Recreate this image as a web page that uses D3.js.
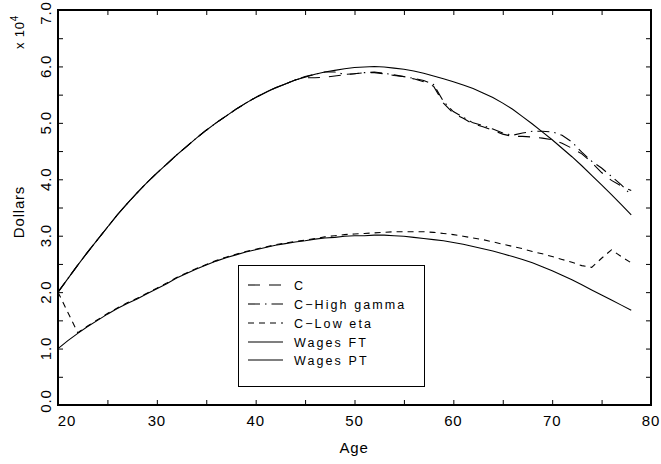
<!DOCTYPE html>
<html>
<head>
<meta charset="utf-8">
<script src="https://cdn.jsdelivr.net/npm/d3@7"></script>
<style>
  body { margin: 0; background: #fff; }
  svg { display: block; }
  text { font-family: "Liberation Sans", Arial, sans-serif; fill: #000; }
</style>
</head>
<body>
<svg id="chart" width="661" height="464"></svg>
<script>
// ---------------- data ----------------
const ages = [20,21,22,23,24,25,26,27,28,29,30,31,32,33,34,35,36,37,38,39,
              40,41,42,43,44,45,46,47,48,49,50,51,52,53,54,55,56,57,58,59,
              60,61,62,63,64,65,66,67,68,69,70,71,72,73,74,75,76,77,78];

const wagesFT = [2.00,2.24,2.48,2.71,2.93,3.15,3.37,3.57,3.76,3.94,
                 4.11,4.27,4.43,4.58,4.73,4.87,5.00,5.12,5.24,5.35,
                 5.45,5.54,5.62,5.69,5.76,5.81,5.86,5.90,5.93,5.96,
                 5.98,5.99,6.00,5.99,5.97,5.95,5.92,5.88,5.83,5.78,
                 5.73,5.67,5.61,5.53,5.45,5.35,5.24,5.11,4.98,4.84,
                 4.70,4.55,4.40,4.24,4.07,3.90,3.73,3.55,3.37];

const wagesPT = [1.00,1.14,1.27,1.39,1.50,1.61,1.71,1.80,1.88,1.97,
                 2.06,2.15,2.25,2.33,2.41,2.48,2.55,2.61,2.66,2.71,
                 2.75,2.79,2.83,2.86,2.89,2.91,2.94,2.96,2.97,2.99,
                 3.00,3.00,3.01,3.01,3.00,2.99,2.97,2.95,2.93,2.91,
                 2.88,2.85,2.81,2.77,2.73,2.68,2.63,2.58,2.52,2.45,
                 2.38,2.30,2.22,2.13,2.04,1.95,1.86,1.77,1.68];

const consC = [2.00,2.24,2.48,2.71,2.93,3.15,3.37,3.57,3.76,3.94,
               4.11,4.27,4.43,4.58,4.73,4.87,5.00,5.12,5.24,5.35,
               5.45,5.54,5.62,5.69,5.76,5.80,5.80,5.81,5.83,5.85,
               5.87,5.89,5.89,5.87,5.84,5.82,5.78,5.73,5.65,5.35,
               5.17,5.08,4.98,4.93,4.87,4.80,4.76,4.76,4.75,4.73,
               4.70,4.64,4.55,4.45,4.30,4.12,3.98,3.88,3.80];

const consHighGamma = [2.00,2.24,2.48,2.71,2.93,3.15,3.37,3.57,3.76,3.94,
                       4.11,4.27,4.43,4.58,4.73,4.87,5.00,5.12,5.24,5.35,
                       5.45,5.54,5.62,5.69,5.76,5.82,5.86,5.90,5.90,5.86,
                       5.87,5.89,5.90,5.88,5.85,5.82,5.79,5.75,5.68,5.38,
                       5.20,5.10,5.00,4.95,4.89,4.82,4.78,4.82,4.85,4.85,
                       4.84,4.78,4.66,4.48,4.32,4.20,4.05,3.90,3.72];

const consLowEta = [2.00,1.64,1.28,1.40,1.51,1.62,1.72,1.81,1.89,1.98,
                    2.07,2.16,2.26,2.34,2.42,2.49,2.56,2.62,2.67,2.72,
                    2.76,2.80,2.84,2.87,2.90,2.92,2.95,2.98,3.00,3.02,
                    3.03,3.04,3.05,3.06,3.07,3.07,3.07,3.07,3.06,3.04,
                    3.02,2.99,2.96,2.93,2.89,2.85,2.81,2.77,2.72,2.68,
                    2.63,2.58,2.53,2.47,2.44,2.60,2.75,2.63,2.52];

const xMajorTicks = [20,30,40,50,60,70,80];
const xMinorTicks = [25,35,45,55,65,75];
const yMajorTicks = [0,1,2,3,4,5,6,7];
const yMinorTicks = [0.5,1.5,2.5,3.5,4.5,5.5,6.5];
const yTickLabels = ["0.0","1.0","2.0","3.0","4.0","5.0","6.0","7.0"];

const seriesNames = ["C","C\u2212High gamma","C\u2212Low eta","Wages FT","Wages PT"];
const seriesValues = [consC, consHighGamma, consLowEta, wagesFT, wagesPT];
const seriesDash = ["12,9", "12,5,1.5,5", "6,5", null, null];

// ---------------- layout ----------------
const svg = d3.select("#chart");
const L = 58, R = 651, T = 10, B = 405;
const x = d3.scaleLinear().domain([20, 80]).range([L, R]);
const y = d3.scaleLinear().domain([0, 7]).range([B, T]);

// ticks (inward, all four sides)
function tickAxis(gen, tx, ty) {
  const g = svg.append("g").attr("transform", `translate(${tx},${ty})`).call(gen);
  g.select(".domain").remove();
  g.selectAll("text").remove();
  g.selectAll("line").attr("stroke", "#000").attr("stroke-width", 1);
  return g;
}
const allX = xMajorTicks.concat(xMinorTicks);
const allY = yMajorTicks.concat(yMinorTicks);
tickAxis(d3.axisBottom(x).tickValues(allX).tickSize(-5), 0, B);
tickAxis(d3.axisTop(x).tickValues(allX).tickSize(-5), 0, T);
tickAxis(d3.axisLeft(y).tickValues(allY).tickSize(-5), L, 0);
tickAxis(d3.axisRight(y).tickValues(allY).tickSize(-5), R, 0);

// frame
svg.append("rect")
  .attr("x", L).attr("y", T).attr("width", R - L).attr("height", B - T)
  .attr("fill", "none").attr("stroke", "#000").attr("stroke-width", 2);

// x tick labels
svg.append("g").selectAll("text")
  .data(xMajorTicks).join("text")
  .attr("x", (d, i) => x(d) + (i === 0 ? 9 : 0))
  .attr("y", 426)
  .attr("text-anchor", "middle")
  .attr("font-size", 15)
  .attr("letter-spacing", 0.8)
  .text(d => d);

// y tick labels (rotated); end labels nudged away from the corners/edge
const yLast = yMajorTicks.length - 1;
svg.append("g").selectAll("text")
  .data(yMajorTicks).join("text")
  .attr("transform", (d, i) => {
    const off = i === 0 ? -4 : (i === yLast ? 3 : 0);
    return `translate(51,${y(d) + off}) rotate(-90)`;
  })
  .attr("text-anchor", "middle")
  .attr("font-size", 15)
  .attr("letter-spacing", 0.8)
  .text((d, i) => yTickLabels[i]);

// axis titles
svg.append("text")
  .attr("x", 354).attr("y", 453)
  .attr("text-anchor", "middle")
  .attr("font-size", 15).attr("letter-spacing", 0.8)
  .text("Age");

svg.append("text")
  .attr("transform", "translate(24,212) rotate(-90)")
  .attr("text-anchor", "middle")
  .attr("font-size", 15).attr("letter-spacing", 0.8)
  .text("Dollars");

const sc = svg.append("text")
  .attr("transform", "translate(24,32) rotate(-90)")
  .attr("text-anchor", "middle")
  .attr("font-size", 13).attr("letter-spacing", 0.8);
sc.append("tspan").text("x 10");
sc.append("tspan").attr("dy", -6).attr("font-size", 10).text("4");

// lines
const line = d3.line().x((d, i) => x(ages[i])).y(d => y(d));
const plot = svg.append("g");
seriesValues.forEach((vals, k) => {
  plot.append("path")
    .datum(vals)
    .attr("d", line)
    .attr("fill", "none")
    .attr("stroke", "#000")
    .attr("stroke-width", 1.1)
    .attr("stroke-dasharray", seriesDash[k]);
});

// legend
const lg = svg.append("g");
lg.append("rect")
  .attr("x", 238.5).attr("y", 265.5).attr("width", 186).attr("height", 121)
  .attr("fill", "#fff").attr("stroke", "#000").attr("stroke-width", 1);
const rowY = [285, 304, 323, 342, 360];
seriesNames.forEach((name, k) => {
  lg.append("line")
    .attr("x1", 248).attr("x2", 283)
    .attr("y1", rowY[k]).attr("y2", rowY[k])
    .attr("stroke", "#000").attr("stroke-width", 1.1)
    .attr("stroke-dasharray", seriesDash[k]);
  lg.append("text")
    .attr("x", 294).attr("y", rowY[k] + 4.5)
    .attr("font-size", 12.5)
    .attr("letter-spacing", 2.1)
    .text(name);
});
</script>
</body>
</html>
